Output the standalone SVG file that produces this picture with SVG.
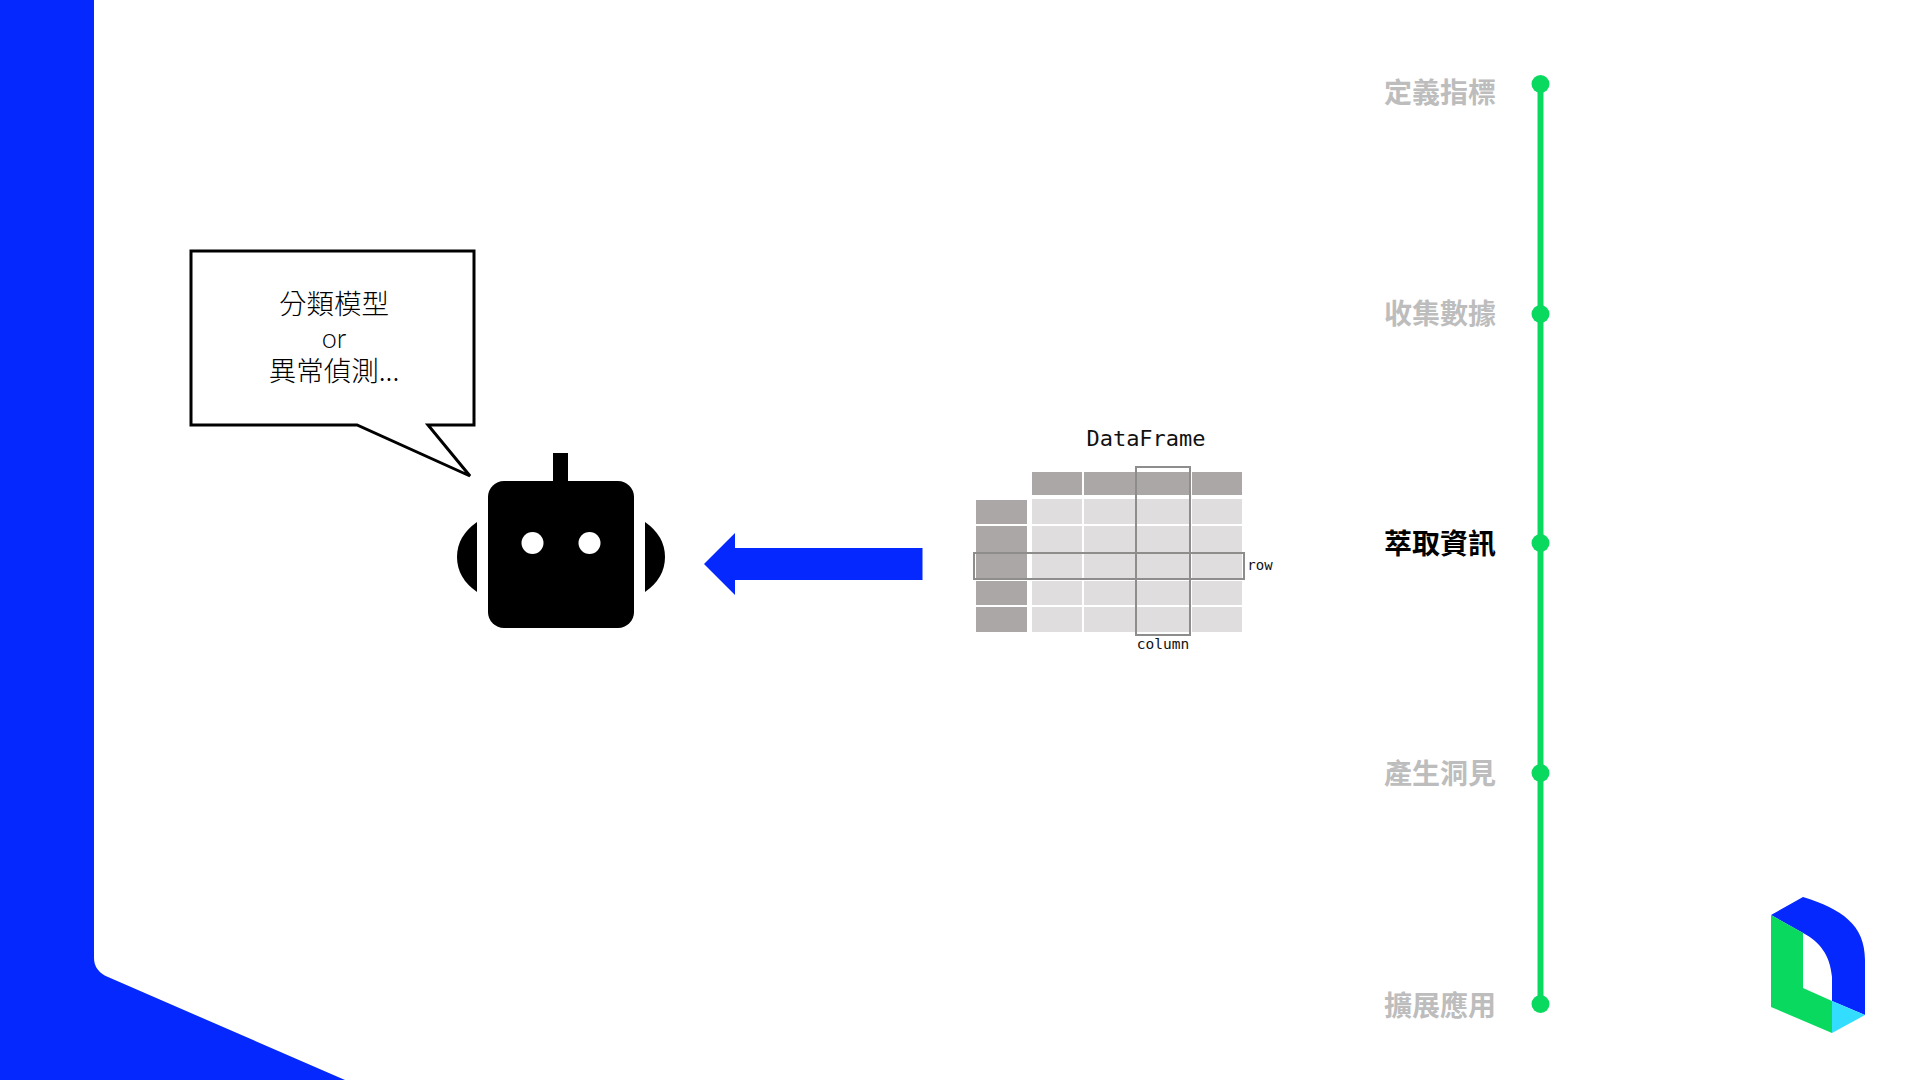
<svg xmlns="http://www.w3.org/2000/svg" width="1920" height="1080" viewBox="0 0 1920 1080">
<style>
.blue{fill:#0528ff}
.green{fill:#0ad95f}
.step{font-family:"Noto Sans CJK TC","Noto Sans",sans-serif;font-size:28px;font-weight:700;fill:#bdbdbd;text-anchor:middle}
.active{fill:#000}
.say{font-family:"Noto Sans CJK TC","Liberation Sans",sans-serif;font-size:27.5px;font-weight:300;fill:#000;text-anchor:middle}
.or{font-family:"Lato","Liberation Sans",sans-serif;font-size:27px;font-weight:300;fill:#000;text-anchor:middle}
.mono{font-family:"DejaVu Sans Mono",monospace;fill:#111;text-anchor:middle}
.h{fill:#aba7a6}
.c{fill:#dfddde}
.sel{fill:none;stroke:#8f8c8c;stroke-width:2}
</style>
<rect width="1920" height="1080" fill="#fff"/>
<path id="frame" class="blue" d="M0 0H94V958Q94 971 108 977L345 1080H0Z"/>
<g id="timeline-connectors"><rect class="green" x="1537.5" y="84" width="6" height="920"/></g>
<g id="step-1"><circle class="green" cx="1540.5" cy="84" r="9"/><text class="step" x="1440" y="103">定義指標</text></g>
<g id="step-2"><circle class="green" cx="1540.5" cy="314" r="9"/><text class="step" x="1440" y="324">收集數據</text></g>
<g id="step-3"><circle class="green" cx="1540.5" cy="543" r="9"/><text class="step active" x="1440" y="554">萃取資訊</text></g>
<g id="step-4"><circle class="green" cx="1540.5" cy="773" r="9"/><text class="step" x="1440" y="784">產生洞見</text></g>
<g id="step-5"><circle class="green" cx="1540.5" cy="1004" r="9"/><text class="step" x="1440" y="1016">擴展應用</text></g>
<g id="bubble">
<path d="M191 251H474V425H428L470 476L357 425H191Z" fill="#fff" stroke="#000" stroke-width="3"/>
<text class="say" x="334" y="314">分類模型</text>
<text class="or" x="334" y="348">or</text>
<text class="say" x="334" y="381">異常偵測...</text>
</g>
<g id="robot">
<rect x="553" y="453" width="15" height="32"/>
<rect x="488" y="481" width="146" height="147" rx="16"/>
<circle cx="532.5" cy="543" r="11" fill="#fff"/><circle cx="589.5" cy="543" r="11" fill="#fff"/>
<path d="M477 522V592Q457 578 457 557Q457 536 477 522Z"/>
<path d="M645 522V592Q665 578 665 557Q665 536 645 522Z"/>
</g>
<g id="connectors"><path class="blue" d="M922.5 548H735V533L704 564L735 595V580H922.5Z"/></g>
<g id="dataframe">
<text class="mono" x="1146" y="446" font-size="22" font-weight="500">DataFrame</text>
<g class="h">
<rect x="1032" y="472" width="50" height="23"/><rect x="1084" y="472" width="51" height="23"/><rect x="1137" y="472" width="53" height="23"/><rect x="1192" y="472" width="50" height="23"/>
<rect x="976" y="500" width="51" height="24"/><rect x="976" y="526" width="51" height="26"/><rect x="976" y="554" width="51" height="25"/><rect x="976" y="581" width="51" height="24"/><rect x="976" y="607" width="51" height="25"/>
</g>
<g class="c">
<rect x="1032" y="499" width="50" height="25"/><rect x="1084" y="499" width="51" height="25"/><rect x="1137" y="499" width="53" height="25"/><rect x="1192" y="499" width="50" height="25"/>
<rect x="1032" y="526" width="50" height="26"/><rect x="1084" y="526" width="51" height="26"/><rect x="1137" y="526" width="53" height="26"/><rect x="1192" y="526" width="50" height="26"/>
<rect x="1032" y="554" width="50" height="25"/><rect x="1084" y="554" width="51" height="25"/><rect x="1137" y="554" width="53" height="25"/><rect x="1192" y="554" width="50" height="25"/>
<rect x="1032" y="581" width="50" height="24"/><rect x="1084" y="581" width="51" height="24"/><rect x="1137" y="581" width="53" height="24"/><rect x="1192" y="581" width="50" height="24"/>
<rect x="1032" y="607" width="50" height="25"/><rect x="1084" y="607" width="51" height="25"/><rect x="1137" y="607" width="53" height="25"/><rect x="1192" y="607" width="50" height="25"/>
</g>
<rect class="sel" x="1136" y="467" width="54" height="168"/>
<rect class="sel" x="974" y="553" width="270" height="26"/>
<text class="mono" x="1260" y="570" font-size="14">row</text>
<text class="mono" x="1163" y="649" font-size="14.5">column</text>
</g>
<g id="logo">
<path class="blue" d="M1771 915L1803 897C1842 909 1865 925 1865 960V1015L1832 1001V977C1830 955 1820 942 1803 933Z"/>
<path class="green" d="M1771 915L1803 933V988L1832 1001V1033L1771 1007Z"/>
<path fill="#33ddff" d="M1832 1001L1865 1015L1832 1033Z"/>
</g>
</svg>
